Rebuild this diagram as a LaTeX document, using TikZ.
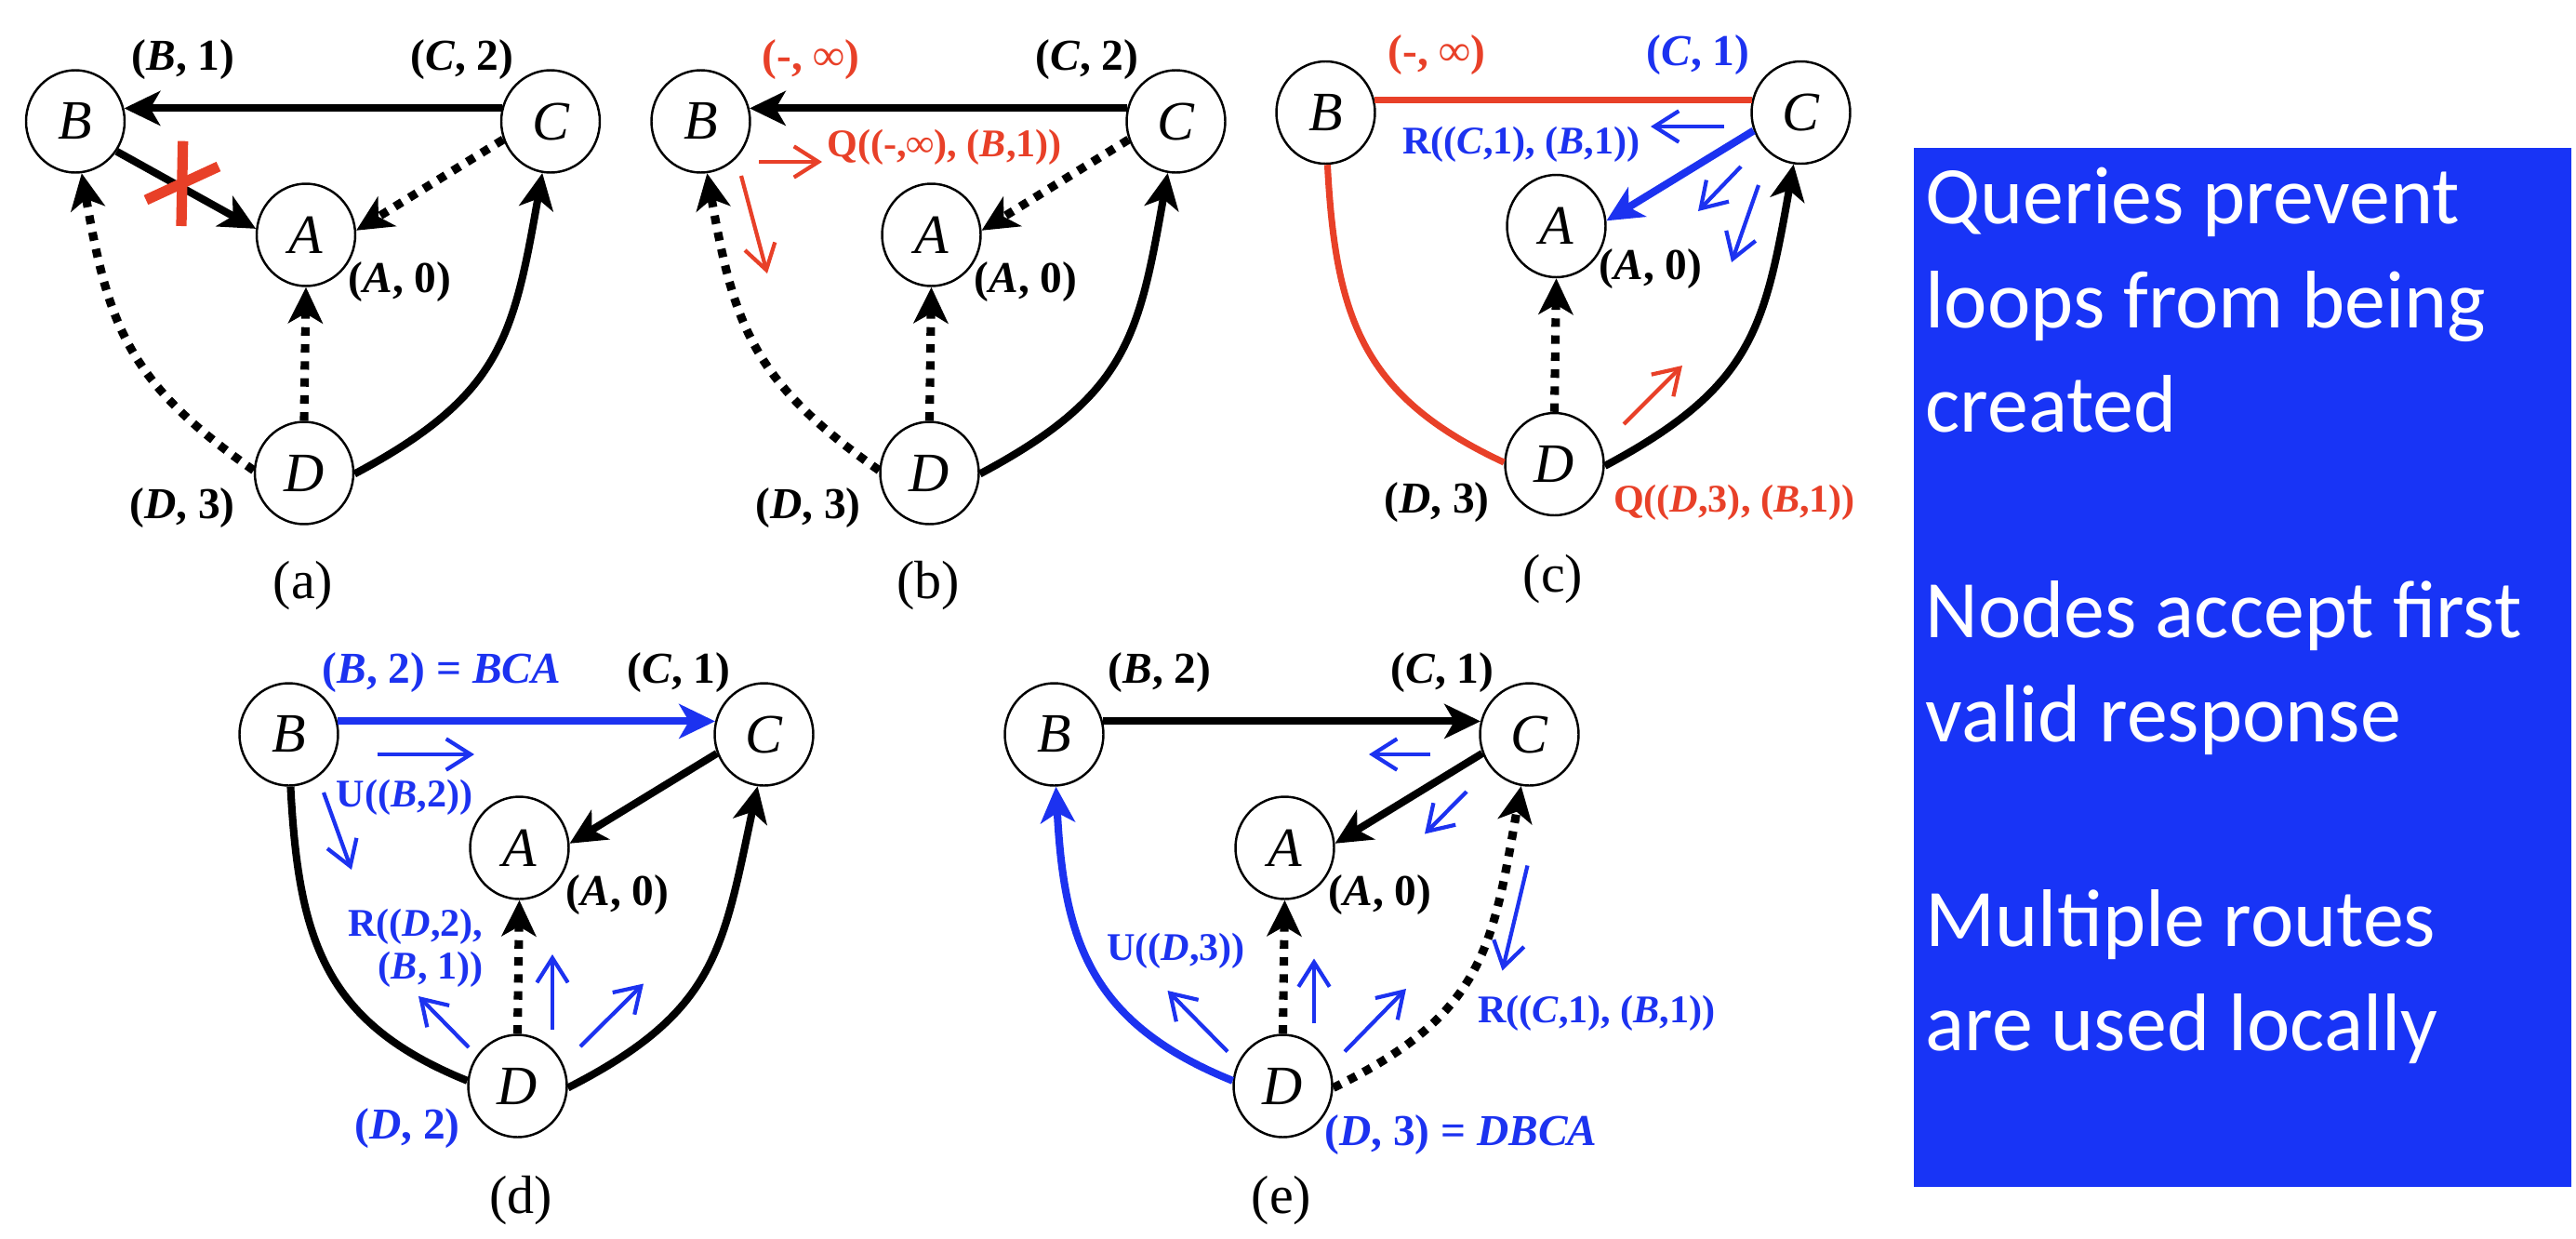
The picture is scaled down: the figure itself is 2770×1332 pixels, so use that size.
\documentclass[tikz,border=0pt]{standalone}
\usepackage{fontspec}
\setmainfont{Liberation Serif}
\newfontfamily\carlito{Carlito}
\usetikzlibrary{arrows.meta,shapes.geometric}
\definecolor{myred}{RGB}{232,64,40}
\definecolor{myblue}{RGB}{28,50,240}
\definecolor{boxblue}{RGB}{24,52,246}
\newcommand\graphnodes[1]{%
  \node[vtx] (#1B) at (0,0) {B};
  \node[vtx] (#1C) at (511,0) {C};
  \node[vtx] (#1A) at (248,-122) {A};
  \node[vtx] (#1D) at (246,-378) {D};
}
\begin{document}
\begin{tikzpicture}[x=0.1mm,y=0.1mm,
  vtx/.style={ellipse,draw,line width=0.7pt,minimum width=10.6mm,minimum height=11mm,inner sep=0pt,font=\fontsize{17}{19}\selectfont\itshape},
  lbl/.style={inner sep=0pt,font=\fontsize{13.5}{15}\selectfont\bfseries},
  mlbl/.style={inner sep=0pt,font=\fontsize{12}{13.1}\selectfont\bfseries},
  subcap/.style={inner sep=0pt,font=\fontsize{16.5}{19}\selectfont},
  edge/.style={line width=2.3pt,-{Stealth[length=11pt,width=10.5pt,inset=3pt]}},
  plain/.style={line width=2.3pt},
  redline/.style={myred,line width=2pt},
  dotl/.style={line width=2.6pt,dash pattern=on 2.6pt off 2.6pt},
  msg/.style={line width=1.2pt,-{Straight Barb[length=7.5pt,width=9.5pt]}},
  boxtxt/.style={anchor=base west,inner sep=0pt,text=white,font=\fontsize{25}{30}\selectfont\carlito}
]
\useasboundingbox (0,0) rectangle (2770,-1332);

% ---------------- (a)
\begin{scope}[shift={(81,-130.5)}]
\graphnodes{a}
\draw[edge] (aC.165) -- (aB.15);
\draw[edge] (aB.-36) -- (aA.173);
\draw[edge,dotl] (aC.201) -- (aA.5);
\draw[edge,dotl] (aD.north) -- (aA.south);
\draw[edge,dotl] (aD.177) to[out=145,in=-80,looseness=1.15] (aB.-83);
\draw[edge] (aD.-1) to[out=28,in=-100,looseness=1.2] (aC.-99);
\draw[myred,line width=3.2pt] (115.7,-21.2) -- (114,-112.5);
\draw[myred,line width=3.2pt] (76,-84.5) -- (154,-48.5);
\node[lbl] (aLB) at (116,66.5) {(\textit{B}, 1)};
\node[lbl] (aLC) at (416,66.5) {(\textit{C}, 2)};
\node[lbl] (aLA) at (349,-172.5) {(\textit{A}, 0)};
\node[lbl] (aLD) at (115,-415.5) {(\textit{D}, 3)};
\node[subcap] (acap) at (245,-499.5) {(a)};
\end{scope}

% ---------------- (b)
\begin{scope}[shift={(753.5,-130.5)}]
\graphnodes{b}
\draw[edge] (bC.165) -- (bB.15);
\draw[edge,dotl] (bC.201) -- (bA.5);
\draw[edge,dotl] (bD.north) -- (bA.south);
\draw[edge,dotl] (bD.177) to[out=145,in=-80,looseness=1.15] (bB.-83);
\draw[edge] (bD.-1) to[out=28,in=-100,looseness=1.2] (bC.-99);
\draw[msg,myred] (62.5,-43.5) -- (130.5,-43.5);
\draw[msg,myred] (43.5,-58.5) -- (71.5,-163.5);
\node[lbl,text=myred] (bLB) at (118.5,66.5) {(-, ∞)};
\node[lbl] (bLC) at (415.5,66.5) {(\textit{C}, 2)};
\node[mlbl,text=myred] (bQ) at (262,-28) {Q((-,∞), (\textit{B},1))};
\node[lbl] (bLA) at (349.5,-172.5) {(\textit{A}, 0)};
\node[lbl] (bLD) at (115.5,-415.5) {(\textit{D}, 3)};
\node[subcap] (bcap) at (244.5,-499.5) {(b)};
\end{scope}

% ---------------- (c)
\begin{scope}[shift={(1425.5,-121)}]
\graphnodes{c}
\draw[redline] (cB.14) -- (cC.166);
\draw[redline] (cB.-88) to[out=-87,in=155,looseness=1.15] (cD.178);
\draw[edge,myblue] (cC.201) -- (cA.6);
\draw[edge,dotl] (cD.north) -- (cA.south);
\draw[edge] (cD.-2) to[out=28,in=-100,looseness=1.2] (cC.-98);
\draw[msg,myblue] (428.5,-15) -- (349.5,-15);
\draw[msg,myblue] (446.5,-58) -- (400.5,-106);
\draw[msg,myblue] (465.5,-78) -- (436.5,-161);
\draw[msg,myred] (320.5,-335) -- (383.5,-272);
\node[lbl,text=myred] (cLB) at (119.5,62) {(-, ∞)};
\node[lbl,text=myblue] (cLC) at (400.5,62) {(\textit{C}, 1)};
\node[mlbl,text=myblue] (cR) at (210.5,-34) {R((\textit{C},1), (\textit{B},1))};
\node[lbl] (cLA) at (349.5,-168) {(\textit{A}, 0)};
\node[lbl] (cLD) at (119.5,-419) {(\textit{D}, 3)};
\node[mlbl,text=myred] (cQ) at (439.5,-419) {Q((\textit{D},3), (\textit{B},1))};
\node[subcap] (ccap) at (244.5,-502) {(c)};
\end{scope}

% ---------------- (d)
\begin{scope}[shift={(310.5,-789.5)}]
\graphnodes{d}
\draw[edge,myblue] (dB.15) -- (dC.165);
\draw[edge] (dC.202) -- (dA.5);
\draw[plain] (dB.-88) to[out=-87,in=158,looseness=1.15] (dD.174);
\draw[edge] (dD.-2) to[out=27,in=-102,looseness=1.2] (dC.-97);
\draw[edge,dotl] (dD.north) -- (dA.south);
\draw[msg,myblue] (95,-21.5) -- (199.5,-21.5);
\draw[msg,myblue] (37.5,-62.5) -- (67.5,-145.5);
\draw[msg,myblue] (193.5,-336.5) -- (139.5,-281.5);
\draw[msg,myblue] (283.5,-317.5) -- (283.5,-236.5);
\draw[msg,myblue] (313.5,-335.5) -- (381.5,-268);
\node[lbl,text=myblue] (dLB) at (164.5,66.5) {(\textit{B}, 2) = \textit{BCA}};
\node[lbl] (dLC) at (419.5,66.5) {(\textit{C}, 1)};
\node[mlbl,text=myblue] (dU) at (124.5,-67.5) {U((\textit{B},2))};
\node[mlbl,text=myblue,align=right,anchor=east] (dR) at (209.5,-229.5) {R((\textit{D},2),\\(\textit{B}, 1))};
\node[lbl] (dLA) at (353.5,-172.5) {(\textit{A}, 0)};
\node[lbl,text=myblue] (dLD) at (127.5,-423.5) {(\textit{D}, 2)};
\node[subcap] (dcap) at (249.5,-501.5) {(d)};
\end{scope}

% ---------------- (e)
\begin{scope}[shift={(1133.5,-789.5)}]
\graphnodes{e}
\draw[edge] (eB.15) -- (eC.165);
\draw[edge] (eC.202) -- (eA.5);
\draw[edge,myblue] (eD.174) to[out=158,in=-87,looseness=1.15] (eB.-88);
\draw[edge,dotl] (eD.-2) to[out=26,in=-100,looseness=1.2] (eC.-99);
\draw[edge,dotl] (eD.north) -- (eA.south);
\draw[msg,myblue] (404.5,-21.5) -- (338.5,-21.5);
\draw[msg,myblue] (443.5,-61.5) -- (398.5,-107);
\draw[msg,myblue] (509,-141) -- (482,-254);
\draw[msg,myblue] (186.5,-341) -- (122,-275.5);
\draw[msg,myblue] (279.5,-310.5) -- (279.5,-241);
\draw[msg,myblue] (312.5,-341) -- (378.5,-273.5);
\node[lbl] (eLB) at (113.5,66.5) {(\textit{B}, 2)};
\node[lbl] (eLC) at (417.5,66.5) {(\textit{C}, 1)};
\node[mlbl,text=myblue] (eU) at (131,-232.5) {U((\textit{D},3))};
\node[mlbl,text=myblue] (eR) at (583.5,-299.5) {R((\textit{C},1), (\textit{B},1))};
\node[lbl] (eLA) at (350.5,-172.5) {(\textit{A}, 0)};
\node[lbl,text=myblue] (eLD) at (437.5,-430.5) {(\textit{D}, 3) = \textit{DBCA}};
\node[subcap] (ecap) at (244.5,-501.5) {(e)};
\end{scope}

% ---------------- text box
\node[fill=boxblue,minimum width=70.7mm,minimum height=111.7mm,inner sep=0pt,anchor=north west] (box) at (2057,-158) {};
\node[boxtxt] (t1) at (2070,-240.6) {Queries prevent};
\node[boxtxt] (t2) at (2070,-352.8) {loops from being};
\node[boxtxt] (t3) at (2070,-464.5) {created};
\node[boxtxt] (t4) at (2070,-685.7) {Nodes accept first};
\node[boxtxt] (t5) at (2070,-797) {valid response};
\node[boxtxt] (t6) at (2070,-1017.6) {Multiple routes};
\node[boxtxt] (t7) at (2070,-1129) {are used locally};
\end{tikzpicture}
\end{document}
